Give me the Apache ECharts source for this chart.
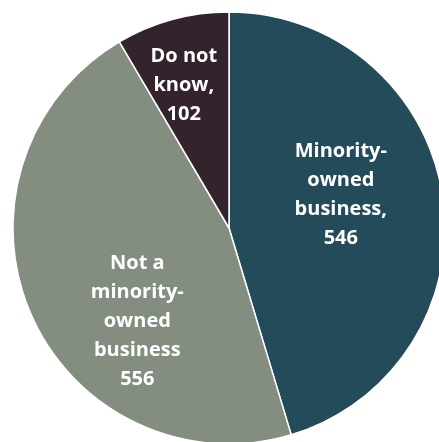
<!DOCTYPE html>
<html>
<head>
<meta charset="utf-8">
<script src="https://cdn.jsdelivr.net/npm/echarts@6/dist/echarts.min.js"></script>
<style>
  html, body { margin: 0; padding: 0; background: #ffffff; }
  #chart { width: 439px; height: 442px; }
</style>
</head>
<body>
<div id="chart"></div>
<script>
// Survey responses: is the business minority-owned?
const categories = ['Minority-owned business', 'Not a minority-owned business', 'Do not know'];
const values = [546, 556, 102];
const labelTexts = [
  'Minority-\nowned\nbusiness,\n546',
  'Not a\nminority-\nowned\nbusiness\n556',
  'Do not\nknow,\n102'
];

const colors = ['#234b59', '#838d80', '#33232c'];
// Nudges from the default inside-label anchor for each slice
const labelOffsets = [[2, -17], [10, 49], [-16, -36]];

const chart = echarts.init(document.getElementById('chart'), null, { renderer: 'canvas' });

chart.setOption({
  animation: false,
  backgroundColor: '#ffffff',
  series: [{
    type: 'pie',
    center: [229, 228],
    radius: 216,
    startAngle: 90,
    clockwise: true,
    avoidLabelOverlap: false,
    itemStyle: { borderColor: '#ffffff', borderWidth: 1.5 },
    label: {
      show: true,
      position: 'inside',
      color: '#ffffff',
      fontFamily: 'Open Sans',
      fontWeight: 'bold',
      fontSize: 20,
      lineHeight: 29,
      align: 'center'
    },
    labelLine: { show: false },
    emphasis: { disabled: true },
    data: categories.map((name, i) => ({
      name: name,
      value: values[i],
      itemStyle: { color: colors[i] },
      label: { formatter: labelTexts[i], offset: labelOffsets[i] }
    }))
  }]
});
</script>
</body>
</html>
